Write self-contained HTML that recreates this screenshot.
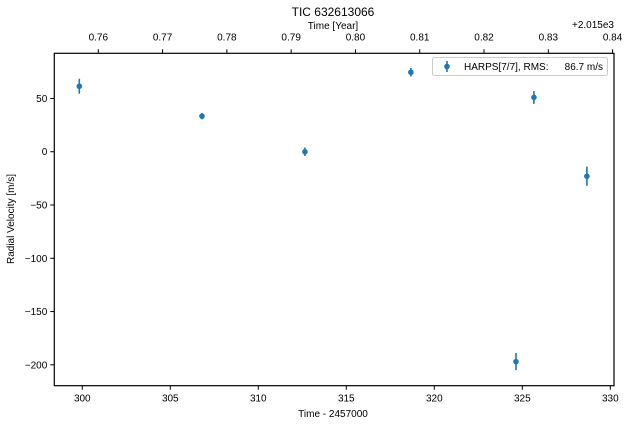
<!DOCTYPE html>
<html><head><meta charset="utf-8"><style>
body{margin:0;background:#fff;font-family:"Liberation Sans",sans-serif;}
svg text{font-family:"Liberation Sans",sans-serif;fill:#000;}
</style></head><body>
<svg width="627" height="426" viewBox="0 0 627 426">
<rect width="627" height="426" fill="#fff"/>
<g id="chart"></g>
</svg>
<script>
const times = [299.83, 306.8, 312.65, 318.67, 324.64, 325.66, 328.67];
const rvs = [61.5, 33.4, 0, 74.6, -197, 51, -23];
const errs = [7, 3, 4, 4, 8, 6, 9];
const xTicks = [300, 305, 310, 315, 320, 325, 330];
const yTicks = [50, 0, -50, -100, -150, -200];
const yearTicks = [0.76, 0.77, 0.78, 0.79, 0.80, 0.81, 0.82, 0.83, 0.84];
const yearTickLabels = ["0.76","0.77","0.78","0.79","0.80","0.81","0.82","0.83","0.84"];

const L=54.3,R=614,T=53.3,B=385.7;
const xMin=298.41,xMax=330.21,yMin=-219.6,yMax=92.4;
const X=v=>L+(v-xMin)/(xMax-xMin)*(R-L);
const Y=v=>T+(yMax-v)/(yMax-yMin)*(B-T);
const yearToT=yr=>300.91+(yr-0.76)*365.25;
const NS='http://www.w3.org/2000/svg';
const g=document.getElementById('chart');
function mk(tag,attrs,parent){const e=document.createElementNS(NS,tag);for(const k in attrs)e.setAttribute(k,attrs[k]);(parent||g).appendChild(e);return e;}
function txt(s,x,y,size,anchor){const e=mk('text',{x:x,y:y,'font-size':size,'text-anchor':anchor||'middle'});e.textContent=s;return e;}

const frame=mk('rect',{x:L,y:T,width:R-L,height:B-T,fill:'none',stroke:'#000','stroke-width':1.2});



xTicks.forEach(v=>{const x=X(v);
 const t=mk('line',{x1:x,x2:x,y1:B,y2:B+4,stroke:'#000'});
 
 
 const l=txt(String(v),x,B+16,10);
 
 
});
yTicks.forEach(v=>{const y=Y(v);
 const t=mk('line',{x1:L-4,x2:L,y1:y,y2:y,stroke:'#000'});
 
 
 const l=txt(String(v).replace('-','\u2212'),L-7,y+3.5,10,'end');
 
 
});
yearTicks.forEach((v,i)=>{const x=X(yearToT(v));
 const t=mk('line',{x1:x,x2:x,y1:T-4,y2:T,stroke:'#000'});
 
 
 const l=txt(yearTickLabels[i],x,T-13,10);
 
 
});

let e;
e=txt('TIC 632613066',333,16,12);
e=txt('Time [Year]',333,29,10);
e=txt('+2.015e3',614,28,10,'end');
e=txt('Time - 2457000',333,417,10);
e=mk('text',{x:0,y:0,'font-size':10,'text-anchor':'middle',transform:'translate(14,219) rotate(-90)'});e.textContent='Radial Velocity [m/s]';


const c='#1f77b4';
times.forEach((t,i)=>{const x=X(t);
 const eb=mk('line',{x1:x,x2:x,y1:Y(rvs[i]+errs[i]),y2:Y(rvs[i]-errs[i]),stroke:c,'stroke-width':1.6});
 
 
 const p=mk('circle',{cx:x,cy:Y(rvs[i]),r:2.8,fill:c});
 
 
});

const lg=mk('g',{});


mk('rect',{x:432.5,y:57.5,width:175,height:18,rx:2,fill:'#fff',stroke:'#ccc'},lg);
mk('line',{x1:447,x2:447,y1:61,y2:72,stroke:c,'stroke-width':1.6},lg);
mk('circle',{cx:447,cy:66.5,r:2.8,fill:c},lg);
const lt=mk('text',{x:464,y:70,'font-size':10},lg);lt.textContent='HARPS[7/7], RMS:';
const lt2=mk('text',{x:603,y:70,'font-size':10,'text-anchor':'end'},lg);lt2.textContent='86.7 m/s';
</script>
</body></html>
